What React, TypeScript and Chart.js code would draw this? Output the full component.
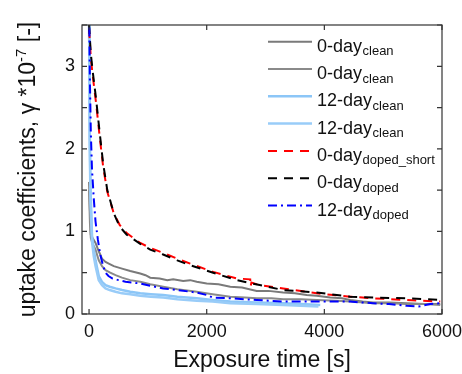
import React, { useEffect, useRef } from "react";
import { Chart, registerables } from "chart.js";
Chart.register(...registerables);

const FONT = "'Liberation Sans', Arial, sans-serif";

const xTicks = [0, 2000, 4000, 6000];
const yTicks = [0, 1, 2, 3];
const yMinorTicks = [0, 0.5, 1, 1.5, 2, 2.5, 3, 3.5];
const xRange = [-120, 6000];
const yRange = [0, 3.5];

const xTitle = "Exposure time [s]";
const yTitleMain = "uptake coefficients, γ *10";
const yTitleSup = "-7";
const yTitleEnd = " [-]";

const legendMain = ["0-day", "0-day", "12-day", "12-day", "0-day", "0-day", "12-day"];
const legendSub = ["clean", "clean", "clean", "clean", "doped_short", "doped", "doped"];

// 0-day clean, run 1
const tClean0a = [0, 15, 30, 60, 110, 165, 220, 280, 335, 420, 560, 700, 870, 960, 1040, 1200, 1330, 1430, 1600, 1720, 1830, 2000, 2200, 2400, 2600, 2850, 3050, 3300, 3500, 3700, 3870, 4100, 4300, 4440, 4650, 4830, 5100, 5400, 5700, 5970];
const vClean0a = [1.6, 1.26, 0.96, 0.92, 0.86, 0.76, 0.67, 0.63, 0.61, 0.58, 0.55, 0.52, 0.49, 0.47, 0.44, 0.43, 0.41, 0.42, 0.40, 0.41, 0.39, 0.37, 0.36, 0.33, 0.32, 0.28, 0.28, 0.26, 0.25, 0.23, 0.22, 0.20, 0.19, 0.17, 0.15, 0.14, 0.14, 0.13, 0.12, 0.12];
// 0-day clean, run 2
const tClean0b = [0, 15, 30, 60, 110, 165, 220, 280, 360, 450, 560, 700, 870, 1040, 1260, 1500, 1830, 2100, 2400, 2650, 2850, 3100, 3300, 3600, 3870, 4200, 4440, 4830, 5100, 5400, 5700, 5970];
const vClean0b = [1.5, 1.1, 0.92, 0.85, 0.78, 0.65, 0.58, 0.53, 0.50, 0.47, 0.44, 0.41, 0.39, 0.36, 0.33, 0.30, 0.27, 0.24, 0.21, 0.20, 0.19, 0.19, 0.18, 0.18, 0.17, 0.16, 0.15, 0.13, 0.13, 0.12, 0.12, 0.11];
// 12-day clean, run 1
const tClean12a = [0, 10, 25, 50, 80, 110, 165, 220, 280, 350, 450, 560, 700, 870, 1050, 1260, 1500, 1830, 2100, 2400, 2850, 3300, 3600, 3930];
const vClean12a = [3.7, 2.3, 1.5, 0.95, 0.78, 0.65, 0.46, 0.39, 0.35, 0.33, 0.31, 0.29, 0.27, 0.25, 0.24, 0.23, 0.21, 0.19, 0.17, 0.15, 0.14, 0.13, 0.12, 0.11];
// 12-day clean, run 2
const tClean12b = [0, 10, 25, 50, 80, 110, 165, 220, 280, 350, 450, 560, 700, 870, 1050, 1260, 1500, 1830, 2100, 2400, 2850, 3300, 3600, 3900];
const vClean12b = [3.7, 2.1, 1.35, 0.88, 0.70, 0.58, 0.41, 0.35, 0.31, 0.29, 0.27, 0.25, 0.24, 0.22, 0.21, 0.20, 0.18, 0.16, 0.15, 0.13, 0.12, 0.11, 0.10, 0.09];
// 0-day doped short
const tDopedShort0 = [0, 30, 60, 120, 180, 240, 310, 420, 520, 640, 870, 1040, 1260, 1500, 1720, 2110, 2510, 2740, 2745, 2760, 2900, 3300, 3870, 4440, 4830, 5400, 5970];
const vDopedShort0 = [3.45, 3.1, 2.9, 2.55, 2.15, 1.78, 1.48, 1.22, 1.08, 0.98, 0.86, 0.80, 0.74, 0.67, 0.61, 0.51, 0.43, 0.42, 0.33, 0.38, 0.35, 0.31, 0.25, 0.21, 0.19, 0.17, 0.15];
// 0-day doped
const tDoped0 = [0, 30, 60, 120, 180, 240, 310, 420, 520, 640, 870, 1040, 1260, 1500, 1720, 2110, 2510, 2900, 3300, 3870, 4440, 4830, 5400, 5700, 5970];
const vDoped0 = [3.5, 3.15, 2.95, 2.6, 2.2, 1.82, 1.50, 1.22, 1.06, 0.96, 0.85, 0.78, 0.72, 0.65, 0.59, 0.50, 0.41, 0.35, 0.29, 0.26, 0.21, 0.20, 0.19, 0.18, 0.17];
// 12-day doped
const tDoped12 = [0, 15, 30, 50, 80, 110, 150, 190, 240, 280, 330, 400, 500, 620, 870, 1050, 1260, 1500, 1830, 2000, 2100, 2400, 2850, 3300, 3870, 4440, 4830, 5100, 5400, 5600, 5800, 5970];
const vDoped12 = [3.7, 2.8, 2.2, 1.75, 1.4, 1.12, 0.9, 0.72, 0.58, 0.50, 0.46, 0.43, 0.41, 0.39, 0.37, 0.34, 0.31, 0.29, 0.26, 0.23, 0.20, 0.19, 0.17, 0.15, 0.15, 0.15, 0.13, 0.12, 0.10, 0.09, 0.12, 0.13];

const pts = (t: number[], v: number[]) => t.map((x, i) => ({ x, y: v[i] }));

const seriesDefs = [
  { t: tClean0a, v: vClean0a, color: "#7a7a7a", width: 2, dash: [] as number[], order: 6 },
  { t: tClean0b, v: vClean0b, color: "#8a8a8a", width: 2, dash: [] as number[], order: 5 },
  { t: tClean12a, v: vClean12a, color: "#8cc6f7", width: 2.5, dash: [] as number[], order: 4 },
  { t: tClean12b, v: vClean12b, color: "#99ccf8", width: 2.5, dash: [] as number[], order: 3 },
  { t: tDopedShort0, v: vDopedShort0, color: "#ff0000", width: 2, dash: [9, 7], order: 2 },
  { t: tDoped0, v: vDoped0, color: "#000000", width: 2, dash: [9, 7], order: 1 },
  { t: tDoped12, v: vDoped12, color: "#0000ff", width: 2, dash: [9, 4, 2, 4], order: 0 },
];

const decorPlugin = {
  id: "decor",
  afterDraw(chart: any) {
    const { ctx, chartArea: a, scales } = chart;
    const xs = scales.x;
    const ys = scales.y;
    ctx.save();
    // frame
    ctx.strokeStyle = "#333";
    ctx.lineWidth = 1.2;
    ctx.setLineDash([]);
    ctx.strokeRect(a.left, a.top, a.right - a.left, a.bottom - a.top);
    ctx.beginPath();
    for (const v of yMinorTicks) {
      const py = ys.getPixelForValue(v);
      ctx.moveTo(a.left, py);
      ctx.lineTo(a.left + 5, py);
      ctx.moveTo(a.right, py);
      ctx.lineTo(a.right - 5, py);
    }
    for (const v of xTicks) {
      const px = xs.getPixelForValue(v);
      ctx.moveTo(px, a.bottom);
      ctx.lineTo(px, a.bottom - 5);
      ctx.moveTo(px, a.top);
      ctx.lineTo(px, a.top + 5);
    }
    ctx.stroke();

    // legend
    const lx0 = a.right - 174;
    const lx1 = a.right - 130;
    const tx = a.right - 125;
    seriesDefs.forEach((s, i) => {
      const y = a.top + 16.7 + i * 27.3;
      ctx.strokeStyle = s.color;
      ctx.lineWidth = s.width;
      ctx.setLineDash(s.dash);
      ctx.beginPath();
      ctx.moveTo(lx0, y);
      ctx.lineTo(lx1, y);
      ctx.stroke();
      ctx.setLineDash([]);
      ctx.fillStyle = "#111";
      ctx.textBaseline = "alphabetic";
      ctx.textAlign = "left";
      ctx.font = `18px ${FONT}`;
      ctx.fillText(legendMain[i], tx, y + 10);
      const w = ctx.measureText(legendMain[i]).width;
      ctx.font = `13px ${FONT}`;
      ctx.fillText(legendSub[i], tx + w + 0.5, y + 13.5);
    });

    // y title with superscript
    const mainFont = `23px ${FONT}`;
    const supFont = `15px ${FONT}`;
    ctx.font = mainFont;
    const w1 = ctx.measureText(yTitleMain).width;
    const w3 = ctx.measureText(yTitleEnd).width;
    ctx.font = supFont;
    const w2 = ctx.measureText(yTitleSup).width;
    const W = w1 + w2 + w3;
    ctx.translate(35, (a.top + a.bottom) / 2);
    ctx.rotate(-Math.PI / 2);
    ctx.fillStyle = "#111";
    ctx.textAlign = "left";
    ctx.textBaseline = "alphabetic";
    let x0 = -W / 2;
    ctx.font = mainFont;
    ctx.fillText(yTitleMain, x0, 0);
    x0 += w1;
    ctx.font = supFont;
    ctx.fillText(yTitleSup, x0, -9);
    x0 += w2;
    ctx.font = mainFont;
    ctx.fillText(yTitleEnd, x0, 0);
    ctx.restore();
  },
};

export default function App() {
  const ref = useRef<HTMLCanvasElement | null>(null);
  useEffect(() => {
    document.body.style.margin = "0";
    const canvas = ref.current;
    if (!canvas) return;
    const chart = new Chart(canvas, {
      type: "line",
      data: {
        datasets: seriesDefs.map((s, i) => ({
          label: legendMain[i] + legendSub[i],
          data: pts(s.t, s.v),
          borderColor: s.color,
          backgroundColor: s.color,
          borderWidth: s.width,
          borderDash: s.dash,
          pointRadius: 0,
          tension: 0,
          fill: false,
          order: s.order,
        })),
      },
      options: {
        animation: false,
        responsive: false,
        maintainAspectRatio: false,
        layout: { padding: { top: 25, right: 20, left: 0, bottom: 0 } },
        plugins: { legend: { display: false }, tooltip: { enabled: false } },
        scales: {
          x: {
            type: "linear",
            min: xRange[0],
            max: xRange[1],
            grid: { display: false, drawTicks: false },
            border: { display: false },
            afterBuildTicks: (s: any) => {
              s.ticks = xTicks.map((v) => ({ value: v }));
            },
            afterFit: (s: any) => {
              s.height = 60;
              s.paddingLeft = 0;
              s.paddingRight = 0;
            },
            ticks: {
              padding: 7,
              maxRotation: 0,
              color: "#111",
              font: { family: FONT, size: 18 },
              callback: (v: any) => String(v),
            },
            title: {
              display: true,
              text: xTitle,
              color: "#111",
              font: { family: FONT, size: 23, lineHeight: 1.2 },
              padding: { top: 0, bottom: 0 },
            },
          },
          y: {
            type: "linear",
            min: yRange[0],
            max: yRange[1],
            grid: { display: false, drawTicks: false },
            border: { display: false },
            afterBuildTicks: (s: any) => {
              s.ticks = yTicks.map((v) => ({ value: v }));
            },
            afterFit: (s: any) => {
              s.width = 82;
              s.paddingTop = 0;
              s.paddingBottom = 0;
            },
            ticks: {
              padding: 7,
              color: "#111",
              font: { family: FONT, size: 18 },
              callback: (v: any) => String(v),
            },
          },
        },
      },
      plugins: [decorPlugin],
    });
    return () => chart.destroy();
  }, []);
  return (
    <div style={{ width: 462, height: 374 }}>
      <canvas ref={ref} width={462} height={374} />
    </div>
  );
}
